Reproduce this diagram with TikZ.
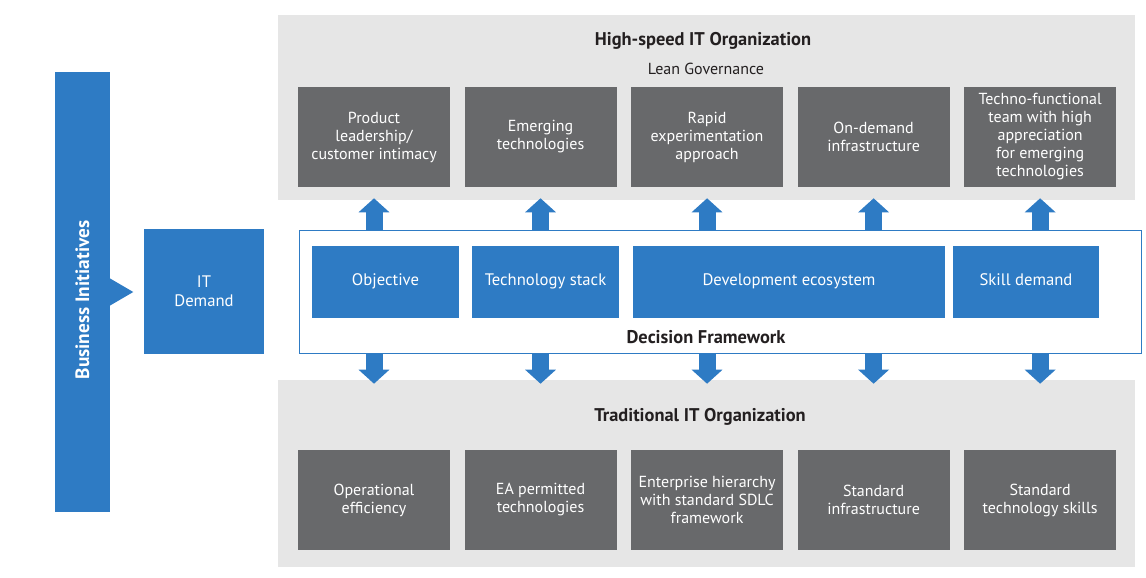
\documentclass[tikz,border=0pt]{standalone}
\usepackage{fontspec}
\setmainfont{PT Sans}
\usetikzlibrary{arrows.meta, positioning, calc}

\definecolor{itblue}{HTML}{2E7BC4}
\definecolor{itdark}{HTML}{68696B}
\definecolor{itpanel}{HTML}{E6E6E6}
\definecolor{ittext}{HTML}{231F20}

\begin{document}
\begin{tikzpicture}[
  x=0.75pt, y=-0.75pt,
  node distance=10.5pt,
  panel/.style={fill=itpanel, draw=none, minimum width=642.75pt, inner sep=0pt},
  orgbox/.style={fill=itdark, text=white, align=center, minimum width=114pt,
                 minimum height=75pt, inner sep=1pt,
                 font=\fontsize{12}{13.5}\selectfont},
  bluebox/.style={fill=itblue, text=white, align=center, minimum height=54pt,
                  inner sep=0pt, text height=1.6ex, text depth=0.45ex,
                  font=\fontsize{12.5}{14}\selectfont},
  title/.style={text=ittext, font=\bfseries\fontsize{13.8}{16}\selectfont},
  blockarr/.style={itblue, line width=12.75pt,
                   -{Triangle[width=22.5pt, length=10.5pt]}}
]
  \useasboundingbox (0,0) rectangle (1146,578);

  % gray panels
  \node[panel, minimum height=138.75pt] (hspanel) at (706.5,107.5) {};
  \node[panel, minimum height=140.25pt] (trpanel) at (706.5,473.5) {};
  \node[title] (hstitle) at (703,41) {High-speed IT Organization};
  \node[text=ittext, font=\fontsize{12}{14}\selectfont] (lean) at (706,69)
    {Lean Governance};
  \node[title] (trtitle) at (700,417) {Traditional IT Organization};

  % high-speed row
  \node[orgbox] (hs1) at (374,137) {Product\\leadership/\\customer intimacy};
  \node[orgbox, right=of hs1] (hs2) {Emerging\\technologies};
  \node[orgbox, right=of hs2] (hs3) {Rapid\\experimentation\\approach};
  \node[orgbox, right=of hs3] (hs4) {On-demand\\infrastructure};
  \node[orgbox, right=of hs4] (hs5) {Techno-functional\\team with high\\
    appreciation\\for emerging\\technologies};

  % traditional row
  \node[orgbox] (tr1) at (374,500) {Operational\\efficiency};
  \node[orgbox, right=of tr1] (tr2) {EA permitted\\technologies};
  \node[orgbox, right=of tr2] (tr3) {Enterprise hierarchy\\with standard SDLC\\
    framework};
  \node[orgbox, right=of tr3] (tr4) {Standard\\infrastructure};
  \node[orgbox, right=of tr4] (tr5) {Standard\\technology skills};

  % decision framework
  \node[draw=itblue, fill=white, line width=0.75pt, minimum width=631.5pt,
        minimum height=92.25pt, inner sep=0pt] (frame) at (720,291.5) {};
  \node[bluebox, minimum width=110.25pt] (obj) at (385.5,282) {Objective};
  \node[bluebox, minimum width=110.25pt] (stack) at (545.5,282)
    {Technology stack};
  \node[bluebox, minimum width=234pt] (ecosys) at (789,282)
    {Development ecosystem};
  \node[bluebox, minimum width=109.5pt] (skill) at (1026,282) {Skill demand};
  \node[title] (dftitle) at (706,337) {Decision Framework};

  % business side
  \node[fill=itblue, minimum width=41.25pt, minimum height=330pt,
        inner sep=0pt] (biz) at (82.5,292) {};
  \node[text=white, rotate=90, font=\bfseries\fontsize{14.5}{16}\selectfont]
    (biztext) at (82.5,300) {Business Initiatives};
  \fill[itblue] ($(biz.east)+(-1,-14)$) -- ($(biz.east)+(23,0)$)
    -- ($(biz.east)+(-1,14)$) -- cycle;
  \node[fill=itblue, text=white, align=center, minimum width=90pt,
        minimum height=93.75pt, font=\fontsize{12.5}{14}\selectfont]
    (demand) at (204,291.5) {IT\\Demand};

  % arrows
  \draw[blockarr, shorten >=8.25pt] (frame.north -| hs1) -- (hs1.south);
  \draw[blockarr, shorten >=8.25pt] (frame.north -| hs2) -- (hs2.south);
  \draw[blockarr, shorten >=8.25pt] (frame.north -| hs3) -- (hs3.south);
  \draw[blockarr, shorten >=8.25pt] (frame.north -| hs4) -- (hs4.south);
  \draw[blockarr, shorten >=8.25pt] (frame.north -| hs5) -- (hs5.south);
  \draw[blockarr, shorten >=-3pt] (frame.south -| tr1) -- (trpanel.north -| tr1);
  \draw[blockarr, shorten >=-3pt] (frame.south -| tr2) -- (trpanel.north -| tr2);
  \draw[blockarr, shorten >=-3pt] (frame.south -| tr3) -- (trpanel.north -| tr3);
  \draw[blockarr, shorten >=-3pt] (frame.south -| tr4) -- (trpanel.north -| tr4);
  \draw[blockarr, shorten >=-3pt] (frame.south -| tr5) -- (trpanel.north -| tr5);
\end{tikzpicture}
\end{document}
